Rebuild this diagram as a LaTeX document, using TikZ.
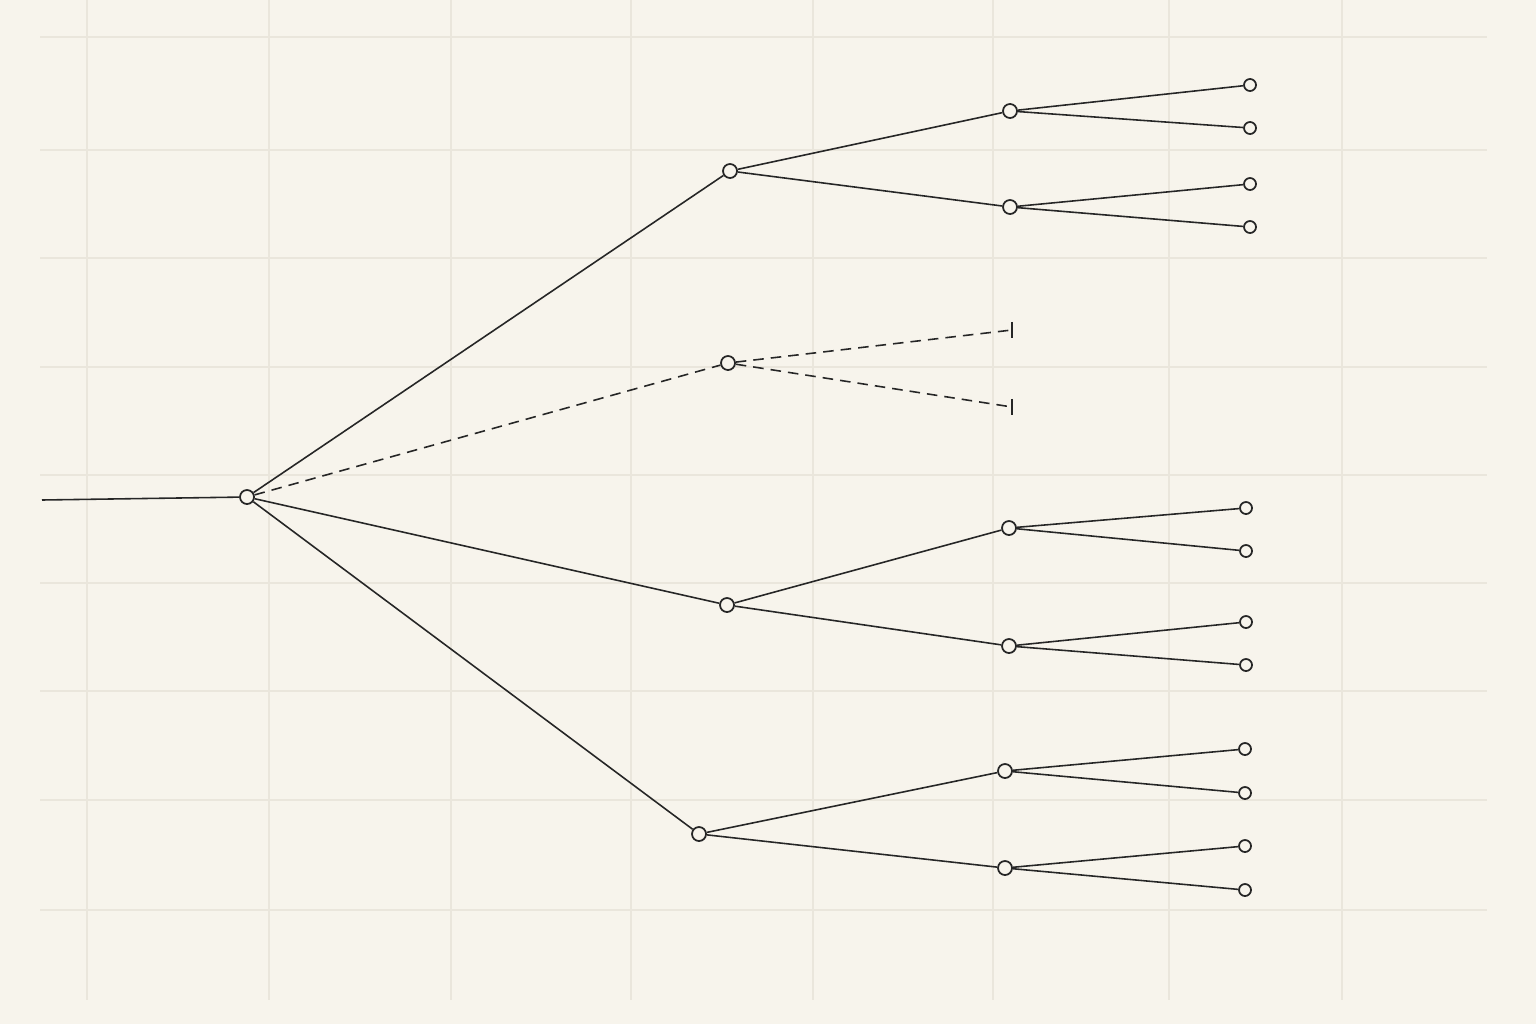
\documentclass[tikz,border=0pt]{standalone}

\definecolor{paper}{HTML}{F7F4EC}
\definecolor{gridline}{HTML}{EAE6DC}
\definecolor{ink}{HTML}{262626}

\tikzset{
	knot/.style={circle,draw=ink,fill=paper,line width=0.5pt,inner sep=0pt,minimum size=0.14cm},
	leaf/.style={circle,draw=ink,fill=paper,line width=0.5pt,inner sep=0pt,minimum size=0.12cm},
	branch/.style={draw=ink,line width=0.45pt},
	pruned/.style={draw=ink,line width=0.45pt,dash pattern=on 3pt off 2pt},
	stopbar/.style={draw=ink,line width=0.55pt}
}

\begin{document}
\begin{tikzpicture}[x=0.01cm,y=-0.01cm]
		% background and grid
		\fill[paper] (0,0) rectangle (1536,1024);
		\useasboundingbox (0,0) rectangle (1536,1024);
		\foreach \X in {87,269,451,631,813,993,1169,1342} {
			\draw[gridline,line width=0.3pt] (\X,0) -- (\X,1000);
		}
		\foreach \Y in {37,150,258,367,475,583,691,800,910} {
			\draw[gridline,line width=0.3pt] (40,\Y) -- (1487,\Y);
		}
		
		% trunk and root
		\coordinate (stem) at (42,500);
		\node[knot] (root) at (247,497) {};
		
		% first level
		\node[knot] (a) at (730,171) {};
		\node[knot] (b) at (728,363) {};
		\node[knot] (c) at (727,605) {};
		\node[knot] (d) at (699,834) {};
		
		% second level
		\node[knot] (a1) at (1010,111) {};
		\node[knot] (a2) at (1010,207) {};
		\coordinate (b1) at (1012,330);
		\coordinate (b2) at (1012,407);
		\node[knot] (c1) at (1009,528) {};
		\node[knot] (c2) at (1009,646) {};
		\node[knot] (d1) at (1005,771) {};
		\node[knot] (d2) at (1005,868) {};
		
		% leaves
		\node[leaf] (a11) at (1250,85) {};
		\node[leaf] (a12) at (1250,128) {};
		\node[leaf] (a21) at (1250,184) {};
		\node[leaf] (a22) at (1250,227) {};
		\node[leaf] (c11) at (1246,508) {};
		\node[leaf] (c12) at (1246,551) {};
		\node[leaf] (c21) at (1246,622) {};
		\node[leaf] (c22) at (1246,665) {};
		\node[leaf] (d11) at (1245,749) {};
		\node[leaf] (d12) at (1245,793) {};
		\node[leaf] (d21) at (1245,846) {};
		\node[leaf] (d22) at (1245,890) {};
		
		% connectors
		\draw[branch] (stem) -- (root);
		\foreach \N in {a,c,d} {
			\draw[branch] (root) -- (\N);
			\draw[branch] (\N) -- (\N1);
			\draw[branch] (\N) -- (\N2);
			\draw[branch] (\N1) -- (\N11);
			\draw[branch] (\N1) -- (\N12);
			\draw[branch] (\N2) -- (\N21);
			\draw[branch] (\N2) -- (\N22);
		}
		
		% pruned branch
		\draw[pruned] (root) -- (b);
		\draw[pruned] (b) -- (b1);
		\draw[pruned] (b) -- (b2);
		\foreach \E in {b1,b2} {
			\draw[stopbar] ([yshift=0.08cm]\E) -- ([yshift=-0.08cm]\E);
		}
	\end{tikzpicture}
\end{document}
